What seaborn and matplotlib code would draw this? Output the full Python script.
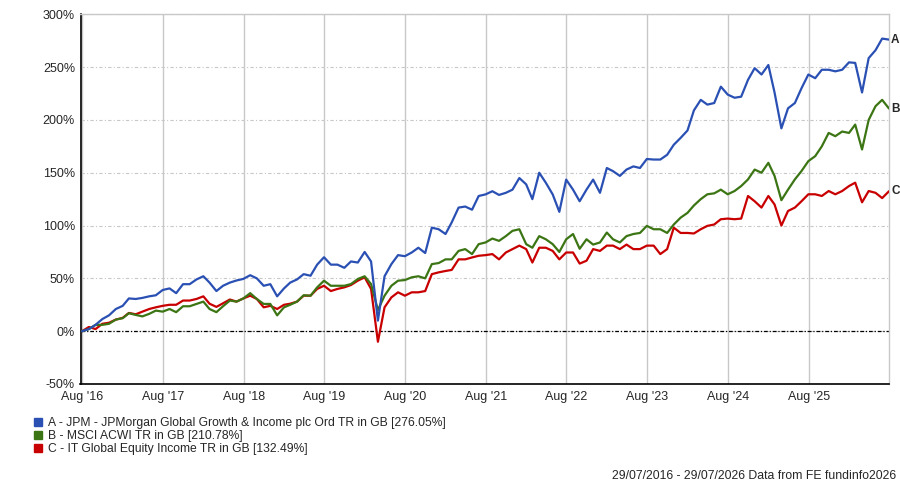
import pandas as pd
import matplotlib.pyplot as plt
import matplotlib.dates as mdates
from matplotlib.lines import Line2D
from matplotlib.ticker import MultipleLocator, FuncFormatter
import seaborn as sns

# month-end values (% growth), Jul 2016 .. Jul 2026
jpm = [0, 2, 6, 11.5, 15, 21, 24, 31, 30.5, 31.5,
       33, 34, 39, 40.5, 36, 44.5, 44.5, 49, 52, 46,
       38, 43, 46, 48, 49.5, 53, 50, 43, 44.5, 33,
       40.5, 46, 49, 54, 52.5, 63, 70, 63, 63, 60,
       66, 65, 75, 66, 10, 52, 63.5, 72, 71, 74.5,
       79, 74, 98, 96.5, 92, 103, 117, 118, 115, 128,
       129.5, 132.5, 129, 131, 134, 145, 139, 125, 150, 140.5,
       129.5, 113, 143.5, 134, 123, 134, 143.5, 131, 154.5, 151.5,
       147, 153, 156, 154.5, 163, 162.5, 162.5, 167, 176.5, 183,
       190, 209, 219, 214.5, 216, 231.5, 224, 221, 222, 238,
       249, 243, 252, 226, 192, 211, 216, 230, 243, 239.5,
       247.5, 247.5, 246, 247.5, 254.5, 254, 226, 258.5, 266, 277,
       276.05]

msci = [0, 2, 6, 6, 7, 11, 12.3, 17, 15.4, 14,
        16.4, 19.5, 18.5, 21, 18, 23.6, 23.6, 25.8, 28, 21,
        18, 23.6, 29, 28, 31, 36, 30.5, 25.8, 25.8, 15,
        22.6, 25, 28, 34, 33.6, 41.5, 47.8, 43, 43, 43,
        44.6, 49.4, 52, 44.6, 20, 33.6, 43, 47.8, 48.4, 51,
        52, 50, 63.5, 64.5, 68, 68, 76, 77.7, 73, 82.4,
        84, 87.7, 85.5, 90, 95, 96.5, 82.4, 79, 90, 87,
        82.4, 75, 87, 92, 78, 87, 82, 84, 93.4, 87,
        84, 90, 92, 93, 99.7, 96.5, 96.5, 93, 101, 107.5,
        112, 119, 125, 129.6, 130.5, 134, 129.6, 132.7, 137.4, 143.7,
        153, 150, 159.4, 147, 124, 134, 143.7, 151.6, 161, 165.7,
        175, 187.7, 184.6, 189, 187.7, 195.6, 172, 200, 213, 219,
        210.78]

sector = [0, 4, 2, 7, 8, 11, 12.6, 17.3, 16, 18.5,
          21, 22.6, 24, 25, 25, 29, 29, 30.5, 33, 26,
          23, 26.4, 30, 28, 31, 33.6, 30.5, 22.6, 24, 21,
          25, 26, 28, 33.6, 33.6, 40, 43, 38, 40, 41.5,
          43.7, 47.8, 51, 40, -10, 22.6, 32, 36.8, 33.6, 36.8,
          36.8, 38, 54, 55.7, 57, 58, 68, 68, 69.8, 71.4,
          72, 73, 68, 74.5, 77.7, 81, 77.7, 65, 79, 79,
          76, 68, 74.5, 74.5, 64, 66.7, 77.7, 76, 81, 81,
          77.7, 82, 77.7, 77.7, 81, 81, 73, 77.7, 98, 93,
          93, 92.5, 96.5, 99.7, 101, 106, 106.6, 106, 106.6, 128,
          123, 117, 128, 120, 100, 113.8, 117, 123, 129.6, 129.6,
          128, 132.7, 129.6, 132.7, 137.4, 140.6, 122, 132.7, 131, 126,
          132.49]

series_keys = ["A", "B", "C"]
series_names = [
    "A - JPM - JPMorgan Global Growth & Income plc Ord TR in GB [276.05%]",
    "B - MSCI ACWI TR in GB [210.78%]",
    "C - IT Global Equity Income TR in GB [132.49%]",
]
colors = {"A": "#2a50b4", "B": "#3c7514", "C": "#c80000"}
footer = "29/07/2016 - 29/07/2026 Data from FE fundinfo2026"

dates = pd.date_range("2016-07-31", periods=len(jpm), freq="ME")
df = pd.DataFrame({"date": dates, "A": jpm, "B": msci, "C": sector})
long_df = df.melt(id_vars="date", var_name="series", value_name="growth")

sns.set_style("white")
plt.rcParams["font.family"] = ["Liberation Sans", "DejaVu Sans"]

fig = plt.figure(figsize=(9, 4.84), dpi=100)
ax = fig.add_axes([80.5 / 900, 1 - 384 / 484, 808.5 / 900, 369.7 / 484])

grid_grey = "#c8c8c8"
ax.grid(axis="x", color=grid_grey, lw=1, ls="-")
ax.grid(axis="y", color=grid_grey, lw=0.8, ls=(0, (3, 2, 1, 2)))
ax.set_axisbelow(True)
ax.axhline(0, color="black", lw=0.9, ls=(0, (3, 1.5, 1, 1.5)), zorder=1)

# red first so blue ends up on top, like the original
sns.lineplot(data=long_df, x="date", y="growth", hue="series",
             hue_order=["C", "B", "A"], palette=colors, linewidth=1.6,
             legend=False, ax=ax, zorder=3)

ax.set_xlim(pd.Timestamp("2016-07-24"), pd.Timestamp("2026-07-31"))
ax.set_ylim(-50, 300)
ax.yaxis.set_major_locator(MultipleLocator(50))
ax.yaxis.set_major_formatter(FuncFormatter(lambda v, _: f"{v:.0f}%"))
ax.xaxis.set_major_locator(mdates.YearLocator(month=8, day=1))
ax.xaxis.set_major_formatter(mdates.DateFormatter("%b '%y"))
ax.set_xlabel("")
ax.set_ylabel("")

for side in ["top", "right"]:
    ax.spines[side].set_color(grid_grey)
    ax.spines[side].set_linewidth(1)
for side in ["left", "bottom"]:
    ax.spines[side].set_color("black")
    ax.spines[side].set_linewidth(1.2)

ax.tick_params(axis="x", direction="out", length=4, width=1, color="black",
               labelsize=9, pad=1)
ax.tick_params(axis="y", direction="out", length=2, width=1, color="black",
               labelsize=9, pad=2)

# end-of-line letters
for key, vals in zip(series_keys, [jpm, msci, sector]):
    ax.annotate(key, xy=(dates[-1], vals[-1]), xytext=(1.5, 0),
                textcoords="offset points", va="center", ha="left",
                fontsize=8.5, fontweight="bold", annotation_clip=False)

handles = [Line2D([], [], marker="s", linestyle="none", markersize=6,
                  color=colors[k]) for k in series_keys]
fig.legend(handles, series_names, loc="upper left",
           bbox_to_anchor=(33 / 900, 1 - 417 / 484), frameon=False,
           fontsize=8.7, labelspacing=0.1, handletextpad=0.35,
           handlelength=0.9, borderaxespad=0, borderpad=0)

fig.text(896 / 900, 1 - 476 / 484, footer, ha="right", va="center", fontsize=8.8)

plt.savefig("out.png", dpi=100)
